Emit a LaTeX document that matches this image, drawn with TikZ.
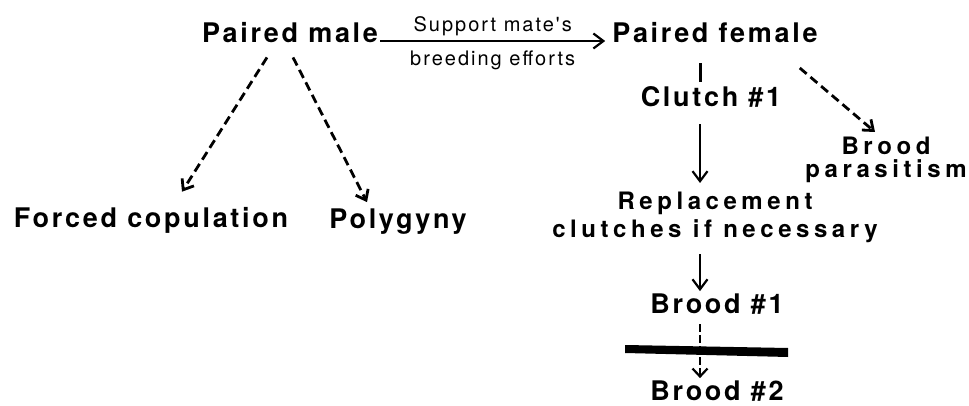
\documentclass[tikz,border=0pt]{standalone}
\usepackage{fontspec}
\newfontfamily\heros{TeX Gyre Heros}[LetterSpace=10]
\usetikzlibrary{arrows.meta,positioning,calc}
\colorlet{Ink}{black}
\tikzset{
  lbl/.style={font=\heros\bfseries\fontsize{27}{30}\selectfont,text=Ink,inner sep=0pt},
  lbltwo/.style={font=\heros\bfseries\addfontfeature{LetterSpace=19}\fontsize{24}{#1}\selectfont,
    text=Ink,inner sep=0pt,align=center},
  smalllbl/.style={font=\heros\fontsize{20}{22}\selectfont,text=Ink,inner sep=0pt},
  solidar/.style={-{Straight Barb[length=10pt,width=15pt]},line width=2.2pt,draw=Ink},
  dashar/.style={-{Straight Barb[length=9pt,width=14pt]},line width=2.8pt,draw=Ink,
    dash pattern=on 9pt off 5pt},
  dashfine/.style={-{Straight Barb[length=8pt,width=15pt]},line width=2.2pt,draw=Ink,
    dash pattern=on 8pt off 3pt}
}

\begin{document}
\begin{tikzpicture}[x=1pt,y=-1pt]
  \useasboundingbox (0,0) rectangle (969,406);
  \coordinate (spine) at (700,0);
  % top row
  \node[lbl,anchor=base] (male) at (290,43) {Paired male};
  \node[lbl,anchor=base] (female) at (715,43) {Paired female};
  \draw[solidar] ($(male.base east)+(2,-2)$)
    -- node[smalllbl,above=4pt] (support) {Support mate's}
       node[smalllbl,below=9pt] (efforts) {breeding efforts}
    ($(female.base west)+(-7,-2)$);
  % male side
  \node[lbl,anchor=base] (forced) at (151,228) {Forced copulation};
  \node[lbl,anchor=base] (polygyny) at (398,229) {Polygyny};
  \draw[dashar] ($(male.south)+(-23,14)$) -- ($(forced.north)+(31,-16)$);
  \draw[dashar] ($(male.south)+(3,14)$) -- ($(polygyny.north)+(-31,-7)$);
  % female side
  \node[lbl,anchor=base] (clutch) at (711,107) {Clutch \#1};
  \draw[line width=3pt,Ink] ($(female.south -| spine)+(0,20)$) -- ($(clutch.north -| spine)+(0,-5)$);
  \node[lbltwo=23,anchor=north] (parasitism) at (886,137) {Brood\\parasitism};
  \draw[dashar] ($(female.base east)+(-18,25)$) -- ($(parasitism.north)+(-11,-5)$);
  \node[lbltwo=28,anchor=north] (replace) at (715,192) {Replacement\\clutches if necessary};
  \draw[solidar] ($(clutch.south -| spine)+(0,16)$) -- ($(replace.north -| spine)+(0,-9)$);
  % broods
  \node[lbl,anchor=base] (broodone) at (717,313) {Brood \#1};
  \draw[solidar] ($(replace.south -| spine)+(0,11)$) -- ($(broodone.north -| spine)+(0,-2)$);
  \node[lbl,anchor=base] (broodtwo) at (717,400) {Brood \#2};
  \draw[dashfine] ($(broodone.south -| spine)+(0,10)$) -- ($(broodtwo.north -| spine)+(0,-2)$);
  \fill[Ink] (625,345) -- (788,348) -- (788,357) -- (625,353) -- cycle;
\end{tikzpicture}
\end{document}
